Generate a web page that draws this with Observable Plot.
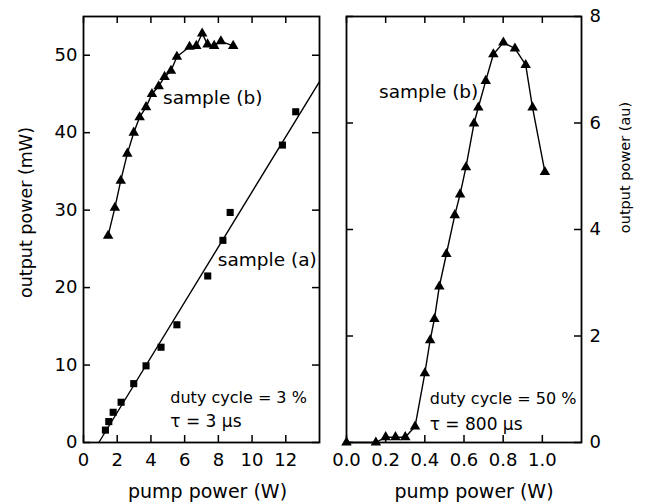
<!DOCTYPE html>
<html><head><meta charset="utf-8">
<script src="https://cdn.jsdelivr.net/npm/d3@7"></script>
<script src="https://cdn.jsdelivr.net/npm/@observablehq/plot@0.6"></script>
<style>
body{margin:0;background:#fff;}
#wrap{position:relative;width:645px;height:504px;overflow:hidden;}
#left,#right{position:absolute;top:0;}
#left{left:0}
#right{left:322px}
</style></head><body><div id="wrap"><div id="left"></div><div id="right"></div></div>
<script>
// Left panel, sample (b): pump power (W) vs output power (mW)
const leftBPump = [1.46,1.86,2.21,2.6,2.98,3.33,3.71,4.06,4.46,4.81,5.19,5.54,6.29,6.69,7.04,7.36,7.75,8.15,8.88];
const leftBOut  = [26.7,30.3,33.8,37.3,40.0,42.0,43.3,45.0,46.0,47.2,48.0,49.8,51.1,51.2,52.8,51.4,51.2,51.8,51.2];
// Left panel, sample (a)
const leftAPump = [1.3,1.5,1.76,2.23,2.98,3.71,4.6,5.54,7.37,8.27,8.7,11.8,12.59];
const leftAOut  = [1.6,2.7,3.9,5.2,7.6,9.9,12.3,15.2,21.5,26.1,29.7,38.4,42.7];
// Linear fit of sample (a): endpoints
const fitPump = [0.91,14];
const fitOut  = [0,46.6];
// Right panel, sample (b): pump power (W) vs output power (au)
const rightPump = [0,0.15,0.2,0.25,0.3,0.35,0.4,0.427,0.449,0.474,0.51,0.553,0.58,0.61,0.651,0.673,0.711,0.75,0.801,0.86,0.915,0.95,1.013];
const rightOut  = [0,0,0.1,0.1,0.1,0.3,1.3,1.92,2.32,2.93,3.54,4.27,4.66,5.17,5.99,6.29,6.79,7.29,7.51,7.40,7.09,6.29,5.08];
// Ticks
const leftXTicks = [0,2,4,6,8,10,12];
const leftYTicks = [0,10,20,30,40,50];
const rightXTicks = [0,0.2,0.4,0.6,0.8,1.0];
const rightYTicks = [0,2,4,6,8];
// Text
const xTitle = "pump power (W)";
const leftYTitle = "output power (mW)";
const rightYTitle = "output power (au)";

const zip = (xs, ys) => xs.map((x, i) => ({x, y: ys[i]}));
const FONT = "'DejaVu Sans', sans-serif";
const TL = 7;
const TICKFS = 18;

// Left panel
{
  const W = 330, H = 504, mL = 83, mR = 11, mT = 16, mB = 62;
  const fw = W - mL - mR, fh = H - mT - mB;
  const chart = Plot.plot({
    width: W, height: H, marginLeft: mL, marginRight: mR, marginTop: mT, marginBottom: mB,
    style: {fontSize: "16px", fontFamily: FONT, color: "#000", background: "transparent", overflow: "visible"},
    x: {domain: [0, 14]},
    y: {domain: [0, 55]},
    marks: [
      Plot.ruleX(leftXTicks, {x: d => d, insetTop: fh - TL, stroke: "#000", strokeWidth: 1.5}),
      Plot.ruleX(leftXTicks, {x: d => d, insetBottom: fh - TL, stroke: "#000", strokeWidth: 1.5}),
      Plot.ruleY(leftYTicks, {y: d => d, insetRight: fw - TL, stroke: "#000", strokeWidth: 1.5}),
      Plot.ruleY(leftYTicks, {y: d => d, insetLeft: fw - TL, stroke: "#000", strokeWidth: 1.5}),
      Plot.axisX(leftXTicks, {anchor: "bottom", tickSize: 0, tickPadding: 11, fontSize: TICKFS, label: null}),
      Plot.axisY(leftYTicks, {anchor: "left", tickSize: 0, tickPadding: 6, fontSize: TICKFS, label: null}),
      Plot.text([xTitle], {frameAnchor: "bottom", textAnchor: "middle", lineAnchor: "middle", dx: 6, dy: 49, fontSize: 19}),
      Plot.text([leftYTitle], {frameAnchor: "left", textAnchor: "middle", lineAnchor: "middle", dx: -57, dy: -17, rotate: -90, fontSize: 17.5}),
      Plot.line(zip(fitPump, fitOut), {x: "x", y: "y", stroke: "#000", strokeWidth: 1.4}),
      Plot.line(zip(leftBPump, leftBOut), {x: "x", y: "y", stroke: "#000", strokeWidth: 1.4}),
      Plot.dot(zip(leftBPump, leftBOut), {x: "x", y: "y", symbol: "triangle", r: 3.9, fill: "#000"}),
      Plot.dot(zip(leftAPump, leftAOut), {x: "x", y: "y", symbol: "square", r: 4, fill: "#000"}),
      Plot.text(["sample (b)"], {x: 4.72, y: 44.5, textAnchor: "start", fontSize: 18.5}),
      Plot.text(["sample (a)"], {x: 7.97, y: 23.5, textAnchor: "start", fontSize: 18.5}),
      Plot.text(["duty cycle = 3 %"], {x: 5.15, y: 5.7, textAnchor: "start", fontSize: 16}),
      Plot.text(["τ = 3 μs"], {x: 5.15, y: 2.65, textAnchor: "start", fontSize: 17}),
      Plot.frame({stroke: "#000", strokeWidth: 1.8})
    ]
  });
  document.getElementById("left").append(chart);
}

// Right panel
{
  const W = 323, H = 504, mL = 24, mR = 64, mT = 16, mB = 62;
  const fw = W - mL - mR, fh = H - mT - mB;
  const chart = Plot.plot({
    width: W, height: H, marginLeft: mL, marginRight: mR, marginTop: mT, marginBottom: mB,
    style: {fontSize: "16px", fontFamily: FONT, color: "#000", background: "transparent", overflow: "visible"},
    x: {domain: [0, 1.2]},
    y: {domain: [0, 8]},
    marks: [
      Plot.ruleX(rightXTicks, {x: d => d, insetTop: fh - TL, stroke: "#000", strokeWidth: 1.5}),
      Plot.ruleX(rightXTicks, {x: d => d, insetBottom: fh - TL, stroke: "#000", strokeWidth: 1.5}),
      Plot.ruleY(rightYTicks, {y: d => d, insetRight: fw - TL, stroke: "#000", strokeWidth: 1.5}),
      Plot.ruleY(rightYTicks, {y: d => d, insetLeft: fw - TL, stroke: "#000", strokeWidth: 1.5}),
      Plot.axisX(rightXTicks, {anchor: "bottom", tickSize: 0, tickPadding: 11, fontSize: TICKFS, tickFormat: d3.format(".1f"), label: null}),
      Plot.axisY(rightYTicks, {anchor: "right", tickSize: 0, tickPadding: 8, fontSize: TICKFS, tickFormat: d3.format("d"), label: null}),
      Plot.text([xTitle], {frameAnchor: "bottom", textAnchor: "middle", lineAnchor: "middle", dx: 10, dy: 49, fontSize: 19}),
      Plot.text([rightYTitle], {frameAnchor: "right", textAnchor: "middle", lineAnchor: "middle", dx: 44, dy: -62, rotate: -90, fontSize: 14.5}),
      Plot.line(zip(rightPump, rightOut), {x: "x", y: "y", stroke: "#000", strokeWidth: 1.4}),
      Plot.dot(zip(rightPump, rightOut), {x: "x", y: "y", symbol: "triangle", r: 3.9, fill: "#000"}),
      Plot.text(["sample (b)"], {x: 0.166, y: 6.59, textAnchor: "start", fontSize: 18.5}),
      Plot.text(["duty cycle = 50 %"], {x: 0.425, y: 0.82, textAnchor: "start", fontSize: 16}),
      Plot.text(["τ = 800 μs"], {x: 0.425, y: 0.34, textAnchor: "start", fontSize: 17}),
      Plot.frame({stroke: "#000", strokeWidth: 1.8})
    ]
  });
  document.getElementById("right").append(chart);
}
</script></body></html>
